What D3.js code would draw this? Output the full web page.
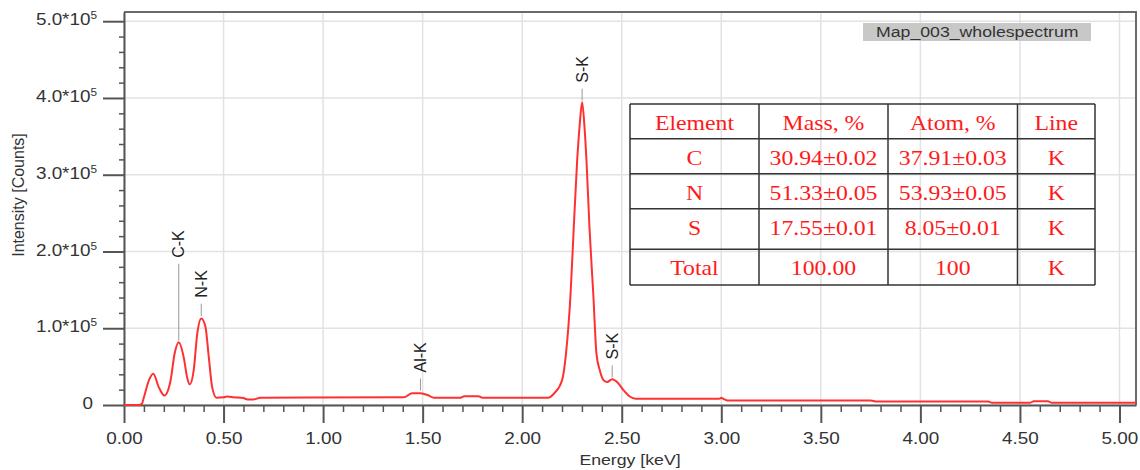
<!DOCTYPE html>
<html>
<head>
<meta charset="utf-8">
<script src="https://cdn.jsdelivr.net/npm/d3@7"></script>
<style>
  body { margin: 0; background: #fff; }
  svg { display: block; }
  .tick text { font-family: "Liberation Sans", Arial, sans-serif; }
</style>
</head>
<body>
<div id="chart"></div>
<script>
// spectrum (keV / counts)
const energyKeV = [0.00, 0.075, 0.09, 0.10, 0.125, 0.147, 0.175, 0.203, 0.234, 0.254, 0.275, 0.30, 0.317, 0.33, 0.35, 0.368, 0.388, 0.409, 0.426, 0.443, 0.465,
  0.50, 0.518, 0.551, 0.60, 0.62, 0.65, 0.685, 1.406, 1.447, 1.489, 1.53, 1.556, 1.69, 1.71, 1.78, 1.80, 2.13, 2.16, 2.20, 2.22,
  2.243, 2.259, 2.276, 2.288, 2.301, 2.313, 2.323, 2.338, 2.357, 2.373, 2.39, 2.41, 2.427, 2.452, 2.48, 2.51, 2.54, 2.57, 2.62,
  2.99, 3.00, 3.01, 3.03, 3.75, 3.78, 4.34, 4.36, 4.55, 4.57, 4.64, 4.66, 5.083];
const countsE5 = [0, 0, 0.015, 0.10, 0.32, 0.406, 0.23, 0.124, 0.32, 0.667, 0.818, 0.62, 0.36, 0.267, 0.45, 0.93, 1.127, 1.02, 0.62, 0.23, 0.094,
  0.10, 0.11, 0.10, 0.09, 0.073, 0.073, 0.094, 0.10, 0.154, 0.154, 0.124, 0.094, 0.094, 0.115, 0.115, 0.094, 0.094, 0.15, 0.32, 0.67,
  1.45, 2.31, 3.18, 3.62, 3.945, 3.62, 3.18, 2.31, 1.45, 0.67, 0.45, 0.32, 0.30, 0.335, 0.29, 0.19, 0.11, 0.08, 0.08,
  0.08, 0.095, 0.08, 0.06, 0.06, 0.045, 0.045, 0.028, 0.028, 0.05, 0.05, 0.028, 0.028];

// peak markers
const peakNames = ['C-K', 'N-K', 'Al-K', 'S-K', 'S-K'];
const peakEnergy = [0.275, 0.388, 1.489, 2.301, 2.452];
const peakBase = [84000, 116000, 18900, 396700, 35800];   // line bottom (counts)
const peakTop = [184000, 132000, 34500, 412000, 51500];   // line top (counts)

// table
const tableHeader = ['Element', 'Mass, %', 'Atom, %', 'Line'];
const tableElements = ['C', 'N', 'S', 'Total'];
const tableMass = ['30.94±0.02', '51.33±0.05', '17.55±0.01', '100.00'];
const tableAtom = ['37.91±0.03', '53.93±0.05', '8.05±0.01', '100'];
const tableLine = ['K', 'K', 'K', 'K'];

const legendLabel = 'Map_003_wholespectrum';
const xTicks = d3.range(0, 5.01, 0.5);
const yTicks = d3.range(0, 500001, 100000);

const W = 1140, H = 470;
const SX = 1.18; // horizontal stretch of the source image
const font = '"Liberation Sans", Arial, sans-serif';
const x = d3.scaleLinear().domain([0, 5.083]).range([124, 1136]);
const y = d3.scaleLinear().domain([0, 512000]).range([405, 12]);

const svg = d3.select('#chart').append('svg').attr('width', W).attr('height', H);

// grid
svg.append('g').selectAll('line').data(xTicks).enter().append('line')
  .attr('x1', d => x(d)).attr('x2', d => x(d)).attr('y1', y.range()[1]).attr('y2', y(0))
  .style('stroke', '#e2e2e2').style('stroke-width', 1.5);
svg.append('g').selectAll('line').data(yTicks).enter().append('line')
  .attr('x1', x(0)).attr('x2', x.range()[1]).attr('y1', d => y(d)).attr('y2', d => y(d))
  .style('stroke', '#e2e2e2').style('stroke-width', 1.5);

// frame top / right
svg.append('path')
  .attr('d', 'M' + x(0) + ',' + y.range()[1] + 'H' + x.range()[1] + 'V' + y(0))
  .style('fill', 'none').style('stroke', '#6a6a6a').style('stroke-width', 2);

// minor ticks
const xMinor = d3.range(0, 5.08, 0.1).filter(v => Math.abs(v * 2 - Math.round(v * 2)) > 0.01);
const yMinor = d3.range(0, 500001, 20000).filter(v => v % 100000 !== 0);
svg.append('g').attr('transform', 'translate(0,' + y(0) + ')')
  .call(d3.axisBottom(x).tickValues(xMinor).tickSize(7).tickSizeOuter(0).tickFormat(''))
  .call(g => g.select('.domain').remove())
  .selectAll('line').style('stroke', '#555').style('stroke-width', 1.5);
svg.append('g').attr('transform', 'translate(' + x(0) + ',0)')
  .call(d3.axisLeft(y).tickValues(yMinor).tickSize(5).tickSizeOuter(0).tickFormat(''))
  .call(g => g.select('.domain').remove())
  .selectAll('line').style('stroke', '#555').style('stroke-width', 1.5);

// major axes
const xAxis = svg.append('g').attr('transform', 'translate(0,' + y(0) + ')')
  .call(d3.axisBottom(x).tickValues(xTicks).tickSize(18).tickSizeOuter(0).tickPadding(10).tickFormat(d3.format('.2f')));
const yAxis = svg.append('g').attr('transform', 'translate(' + x(0) + ',0)')
  .call(d3.axisLeft(y).tickValues(yTicks).tickSize(21).tickSizeOuter(0).tickPadding(10)
    .tickFormat(d => d === 0 ? '0' : d3.format('.1f')(d / 100000) + '*10'));

[xAxis, yAxis].forEach(function(g) {
  g.select('.domain').style('stroke', '#555').style('stroke-width', 2);
  g.selectAll('.tick line').style('stroke', '#555').style('stroke-width', 2);
  g.selectAll('.tick text').style('font-size', '16px').style('fill', '#333');
});
yAxis.selectAll('.tick text')
  .attr('dy', '0.22em')
  .each(function(d) {
    if (d === 0) return;
    d3.select(this).attr('x', -27)
      .append('tspan').attr('dy', -6).style('font-size', '10px').text('5');
  });
// stretch horizontal texts around their anchor
[xAxis, yAxis].forEach(function(g) {
  g.selectAll('.tick text').each(function() {
    const t = d3.select(this);
    const tx = +t.attr('x') || 0;
    t.attr('x', tx / SX).attr('transform', 'scale(' + SX + ',1)');
  });
});

// axis titles
svg.append('text')
  .attr('transform', 'translate(' + ((x(0) + x.range()[1]) / 2) + ',465) scale(' + SX + ',1)')
  .attr('text-anchor', 'middle')
  .style('font-family', font).style('font-size', '15px').style('fill', '#333')
  .text('Energy [keV]');
svg.append('text')
  .attr('transform', 'translate(24,195) rotate(-90)')
  .attr('text-anchor', 'middle')
  .style('font-family', font).style('font-size', '16px').style('fill', '#333')
  .text('Intensity [Counts]');

// spectrum line
const spectrum = energyKeV.map((e, i) => ({e: e, c: countsE5[i] * 100000}));
const line = d3.line().x(d => x(d.e)).y(d => y(d.c)).curve(d3.curveMonotoneX);
svg.append('path').datum(spectrum)
  .attr('d', line)
  .style('fill', 'none').style('stroke', '#ff3030').style('stroke-width', 2)
  .style('stroke-linejoin', 'round');

// peak labels
const peaks = peakNames.map((n, i) => ({name: n, e: peakEnergy[i], base: peakBase[i], top: peakTop[i]}));
const pk = svg.append('g').selectAll('g').data(peaks).enter().append('g');
pk.append('line')
  .attr('x1', d => x(d.e)).attr('x2', d => x(d.e))
  .attr('y1', d => y(d.top)).attr('y2', d => y(d.base))
  .style('stroke', '#999').style('stroke-width', 1);
pk.append('text')
  .attr('transform', d => 'translate(' + x(d.e) + ',' + (y(d.top) - 6) + ') rotate(-90)')
  .attr('dy', '0.35em')
  .style('font-family', font).style('font-size', '16px').style('fill', '#222')
  .text(d => d.name);

// legend box
const lg = svg.append('g');
lg.append('rect').attr('x', 863).attr('y', 23).attr('width', 228).attr('height', 18).style('fill', '#c8c8c8');
lg.append('text')
  .attr('transform', 'translate(876,37) scale(' + SX + ',1)')
  .style('font-family', font).style('font-size', '15px').style('fill', '#333')
  .text(legendLabel);

// table
const colEdges = [630, 759, 888, 1017.5, 1095];
const rowEdges = [104, 138.7, 173.7, 208.7, 249.3, 285];
const rows = [tableHeader].concat(tableElements.map((el, i) => [el, tableMass[i], tableAtom[i], tableLine[i]]));
const tb = svg.append('g');
colEdges.forEach(cx => tb.append('line').attr('x1', cx).attr('x2', cx).attr('y1', rowEdges[0]).attr('y2', rowEdges[rowEdges.length - 1])
  .style('stroke', '#333').style('stroke-width', 1.5));
rowEdges.forEach(ry => tb.append('line').attr('x1', colEdges[0]).attr('x2', colEdges[colEdges.length - 1]).attr('y1', ry).attr('y2', ry)
  .style('stroke', '#333').style('stroke-width', 1.5));
rows.forEach(function(r, ri) {
  r.forEach(function(cell, ci) {
    tb.append('text')
      .attr('transform', 'translate(' + ((colEdges[ci] + colEdges[ci + 1]) / 2) + ',' + (rowEdges[ri] + 26) + ') scale(1.08,1)')
      .attr('text-anchor', 'middle')
      .style('font-family', '"Liberation Serif", "Times New Roman", serif').style('font-size', '22px').style('fill', '#ff1a1a')
      .text(cell);
  });
});
</script>
</body>
</html>
